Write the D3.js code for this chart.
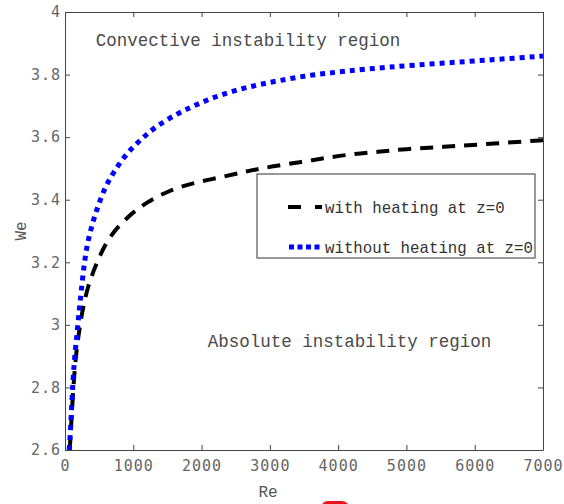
<!DOCTYPE html>
<meta charset="utf-8">
<style>
body { margin: 0; background: #fff; }
.tick text { font: 15px "DejaVu Sans Mono", monospace; fill: #666; letter-spacing: 1px; }
.axis path, .axis line { stroke: #444; }
.note { font: 17.5px "Liberation Mono", monospace; fill: #4a4a4a; }
.leg { font: 15.75px "Liberation Mono", monospace; fill: #333; }
.lab { font: 16px "Liberation Mono", monospace; fill: #555; }
</style>
<svg width="564" height="504"></svg>
<script src="https://d3js.org/d3.v7.min.js"></script>
<script>

// with heating at z=0 (black dashed)
var reHeat = [70, 102, 146, 200, 249, 337, 469, 630, 908, 1201, 1538, 1904, 2314, 2680, 3046, 3441, 3807, 4203, 4584, 4979, 5500, 6300, 7000];
var weHeat = [2.60, 2.73, 2.88, 2.97, 3.04, 3.127, 3.201, 3.278, 3.345, 3.393, 3.431, 3.455, 3.473, 3.492, 3.507, 3.52, 3.533, 3.546, 3.553, 3.562, 3.568, 3.58, 3.59];

// without heating at z=0 (blue dotted)
var reNoHeat = [60, 73, 102, 132, 176, 205, 234, 278, 322, 395, 483, 586, 718, 893, 1098, 1330, 1684, 1977, 2270, 2665, 3105, 3632, 4130, 4715, 5500, 6300, 7000];
var weNoHeat = [2.60, 2.63, 2.76, 2.88, 2.97, 3.04, 3.10, 3.19, 3.255, 3.32, 3.38, 3.44, 3.49, 3.546, 3.59, 3.635, 3.68, 3.709, 3.735, 3.76, 3.78, 3.80, 3.811, 3.824, 3.836, 3.848, 3.859];

var xTicks = [0, 1000, 2000, 3000, 4000, 5000, 6000, 7000];
var yTicks = [2.6, 2.8, 3, 3.2, 3.4, 3.6, 3.8, 4];

var svg = d3.select("svg");
var margin = {top: 12, right: 21, bottom: 54, left: 65},
    width = 564 - margin.left - margin.right,
    height = 504 - margin.top - margin.bottom;

var g = svg.append("g")
    .attr("transform", "translate(" + margin.left + "," + margin.top + ")");

var x = d3.scaleLinear().domain([0, 7000]).range([0, width]);
var y = d3.scaleLinear().domain([2.6, 4]).range([height, 0]);

var fmt = function(d) { return String(d); };

// box axes, ticks inward like matlab
g.append("g").attr("class", "axis")
    .attr("transform", "translate(0," + height + ")")
    .call(d3.axisBottom(x).tickValues(xTicks).tickSizeInner(-5).tickSizeOuter(0).tickPadding(10).tickFormat(fmt));
g.append("g").attr("class", "axis")
    .call(d3.axisTop(x).tickValues(xTicks).tickSizeInner(-5).tickSizeOuter(0).tickFormat(""));
g.append("g").attr("class", "axis")
    .call(d3.axisLeft(y).tickValues(yTicks).tickSizeInner(-5).tickSizeOuter(0).tickPadding(4).tickFormat(fmt));
g.append("g").attr("class", "axis")
    .attr("transform", "translate(" + width + ",0)")
    .call(d3.axisRight(y).tickValues(yTicks).tickSizeInner(-5).tickSizeOuter(0).tickFormat(""));

g.append("clipPath").attr("id", "clip").append("rect")
    .attr("width", width).attr("height", height);

var line = d3.line()
    .curve(d3.curveBasis)
    .x(function(d) { return x(d[0]); })
    .y(function(d) { return y(d[1]); });

var heat = d3.zip(reHeat, weHeat);
var noHeat = d3.zip(reNoHeat, weNoHeat);

g.append("path").datum(heat)
    .attr("clip-path", "url(#clip)")
    .attr("d", line)
    .attr("fill", "none").attr("stroke", "#000")
    .attr("stroke-width", 4).attr("stroke-dasharray", "13,9");

g.append("path").datum(noHeat)
    .attr("clip-path", "url(#clip)")
    .attr("d", line)
    .attr("fill", "none").attr("stroke", "#0000ff")
    .attr("stroke-width", 5).attr("stroke-dasharray", "5,5");

// region notes
g.append("text").attr("class", "note")
    .attr("x", x(450)).attr("y", y(3.91)).attr("dy", "0.35em")
    .text("Convective instability region");
g.append("text").attr("class", "note")
    .attr("x", x(2090)).attr("y", y(2.95)).attr("dy", "0.35em")
    .text("Absolute instability region");

// legend
var leg = svg.append("g").attr("transform", "translate(257,174)");
leg.append("rect").attr("width", 278).attr("height", 84)
    .attr("fill", "#fff").attr("stroke", "#333").attr("stroke-width", 1);
leg.append("line").attr("x1", 31).attr("x2", 65).attr("y1", 33).attr("y2", 33)
    .attr("stroke", "#000").attr("stroke-width", 4).attr("stroke-dasharray", "13,14");
leg.append("line").attr("x1", 32).attr("x2", 66).attr("y1", 73).attr("y2", 73)
    .attr("stroke", "#0000ff").attr("stroke-width", 5).attr("stroke-dasharray", "5,3.5");
leg.append("text").attr("class", "leg").attr("x", 68).attr("y", 33).attr("dy", "0.35em")
    .text("with heating at z=0");
leg.append("text").attr("class", "leg").attr("x", 68).attr("y", 73).attr("dy", "0.35em")
    .text("without heating at z=0");

// axis labels
svg.append("text").attr("class", "lab")
    .attr("x", margin.left + width / 2 - 36).attr("y", 491).attr("dy", "0.35em")
    .attr("text-anchor", "middle").text("Re");
svg.append("text").attr("class", "lab")
    .attr("transform", "translate(20," + (margin.top + height / 2) + ") rotate(-90)")
    .attr("dy", "0.35em").attr("text-anchor", "middle").text("We");

// red marker peeking in at the bottom
svg.append("rect").attr("x", 321).attr("y", 501).attr("width", 28).attr("height", 14)
    .attr("rx", 7).attr("fill", "#e8141c");

</script>
